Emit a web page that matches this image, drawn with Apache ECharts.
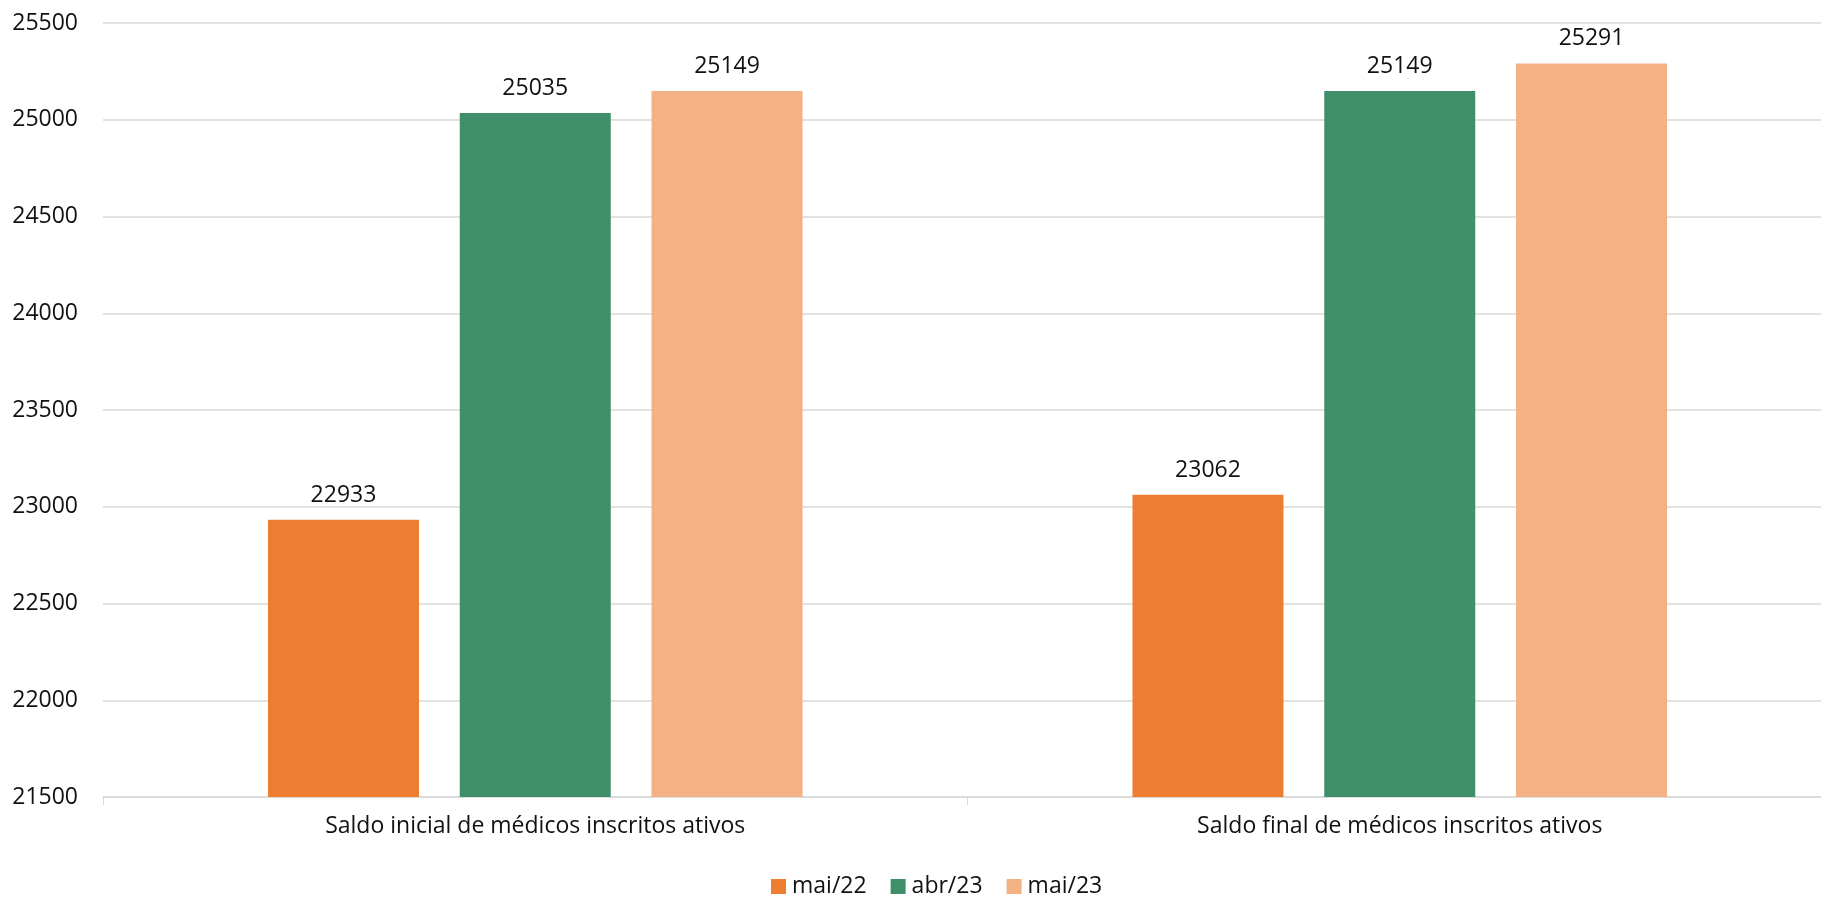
<!DOCTYPE html>
<html>
<head>
<meta charset="utf-8">
<script src="https://cdn.jsdelivr.net/npm/echarts@6/dist/echarts.min.js"></script>
<style>
  html, body { margin: 0; padding: 0; background: #fff; }
  #chart { width: 1821px; height: 899px; }
</style>
</head>
<body>
<div id="chart"></div>
<script>
// categorias e séries
const categories = ['Saldo inicial de médicos inscritos ativos', 'Saldo final de médicos inscritos ativos'];
const seriesNames = ['mai/22', 'abr/23', 'mai/23'];
const mai22 = [22933, 23062];
const abr23 = [25035, 25149];
const mai23 = [25149, 25291];
const colors = ['#ED7D31', '#3F8F6A', '#F4B183'];

const fontFamily = '"Open Sans", "Noto Sans", sans-serif';
const textColor = '#111';
const fontSize = 23;

function makeSeries(name, values) {
    return {
        name: name,
        type: 'bar',
        data: values,
        barWidth: 151,
        barGap: '27%',
        label: {
            show: true,
            position: 'top',
            distance: 13,
            color: textColor,
            fontSize: fontSize,
            fontFamily: fontFamily
        }
    };
}

const chart = echarts.init(document.getElementById('chart'));
chart.setOption({
    animation: false,
    color: colors,
    // o gráfico original está cortado à direita: a grade passa da borda
    grid: {
        left: 103, right: -11, top: 23, bottom: 102,
        containLabel: false,
        outerBoundsMode: 'none'
    },
    legend: {
        bottom: -4,
        left: 766,
        icon: 'rect',
        itemWidth: 15,
        itemHeight: 15,
        itemGap: 24,
        textStyle: { color: textColor, fontSize: fontSize, fontFamily: fontFamily, padding: [0, 0, 0, 1] },
        data: seriesNames
    },
    xAxis: {
        type: 'category',
        data: categories,
        axisLine: { lineStyle: { color: '#d9d9d9', width: 1.5 } },
        axisTick: { show: true, length: 8, lineStyle: { color: '#d9d9d9' } },
        axisLabel: { color: textColor, fontSize: fontSize, fontFamily: fontFamily, margin: 18 }
    },
    yAxis: {
        type: 'value',
        min: 21500,
        max: 25500,
        interval: 500,
        axisLine: { show: false },
        axisTick: { show: false },
        splitLine: { lineStyle: { color: '#d9d9d9', width: 1.5 } },
        axisLabel: {
            color: textColor, fontSize: fontSize, fontFamily: fontFamily, margin: 25,
            formatter: v => String(v)
        }
    },
    series: [
        makeSeries(seriesNames[0], mai22),
        makeSeries(seriesNames[1], abr23),
        makeSeries(seriesNames[2], mai23)
    ]
});
</script>
</body>
</html>
